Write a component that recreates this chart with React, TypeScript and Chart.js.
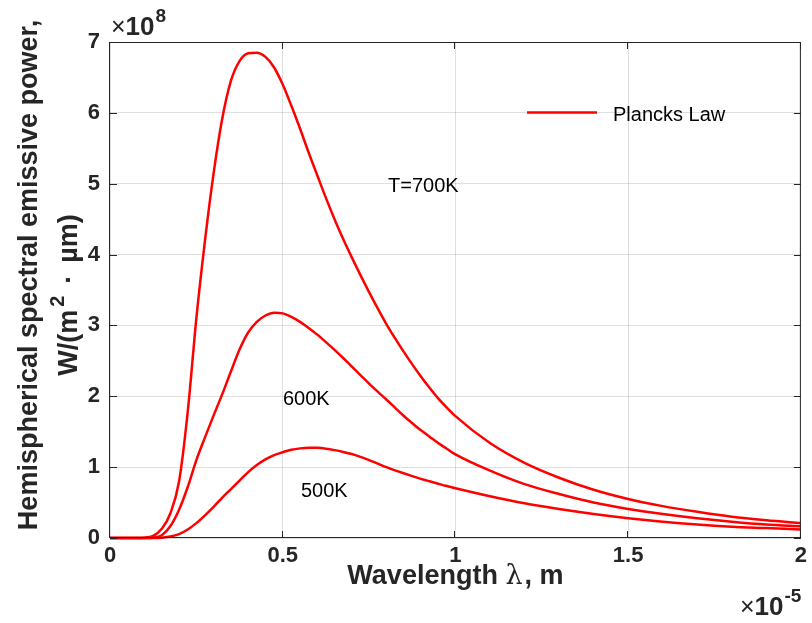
import React, { useEffect, useRef } from "react";
import { Chart, registerables } from "chart.js";

Chart.register(...registerables);

// Wavelength in units of 1e-5 m
const wavelength = [0, 0.025, 0.05, 0.075, 0.1, 0.125, 0.15, 0.175, 0.2, 0.225, 0.25, 0.275, 0.3, 0.325, 0.35, 0.375, 0.4, 0.425, 0.45, 0.475, 0.5, 0.525, 0.55, 0.575, 0.6, 0.625, 0.65, 0.675, 0.7, 0.725, 0.75, 0.775, 0.8, 0.825, 0.85, 0.875, 0.9, 0.925, 0.95, 0.975, 1.0, 1.1, 1.2, 1.3, 1.4, 1.5, 1.6, 1.7, 1.8, 1.9, 2.0];
// Emissive power in units of 1e8 W/(m^2·µm)
const power700 = [0, 0, 0, 0, 0.004, 0.03, 0.13, 0.35, 0.8, 1.78, 3.1, 4.2, 5.15, 5.92, 6.45, 6.73, 6.84, 6.85, 6.79, 6.64, 6.4, 6.1, 5.78, 5.44, 5.12, 4.8, 4.5, 4.22, 3.96, 3.71, 3.47, 3.24, 3.02, 2.82, 2.63, 2.45, 2.28, 2.12, 1.97, 1.84, 1.72, 1.34, 1.06, 0.85, 0.68, 0.55, 0.45, 0.37, 0.3, 0.25, 0.21];
const power600 = [0, 0, 0, 0, 0, 0.005, 0.04, 0.17, 0.4, 0.72, 1.1, 1.42, 1.73, 2.03, 2.35, 2.66, 2.9, 3.05, 3.14, 3.18, 3.17, 3.12, 3.05, 2.965, 2.87, 2.765, 2.655, 2.54, 2.42, 2.3, 2.18, 2.065, 1.955, 1.84, 1.725, 1.62, 1.52, 1.43, 1.34, 1.26, 1.18, 0.95, 0.76, 0.62, 0.5, 0.41, 0.34, 0.28, 0.23, 0.19, 0.165];
const power500 = [0, 0, 0, 0, 0, 0, 0.005, 0.02, 0.055, 0.12, 0.21, 0.32, 0.44, 0.57, 0.69, 0.81, 0.93, 1.03, 1.11, 1.17, 1.21, 1.245, 1.265, 1.275, 1.272, 1.26, 1.24, 1.215, 1.185, 1.145, 1.1, 1.05, 1.0, 0.955, 0.913, 0.873, 0.835, 0.8, 0.766, 0.733, 0.703, 0.59, 0.49, 0.41, 0.34, 0.28, 0.23, 0.19, 0.16, 0.14, 0.12];

const xTicks = [0, 0.5, 1, 1.5, 2];
const yTicks = [0, 1, 2, 3, 4, 5, 6, 7];
const seriesLabels = ["Plancks Law", "T=600K", "T=500K"];
const curveLabels = [
  { text: "T=700K", x: 388, y: 192 },
  { text: "600K", x: 283, y: 405 },
  { text: "500K", x: 301, y: 497 },
];

const AXIS = "#262626";
const RED = "#ff0000";
const FONT = "'Liberation Sans', Arial, Helvetica, sans-serif";

const toPts = (ys: number[]) => wavelength.map((x, i) => ({ x, y: ys[i] }));

function drawExponent(ctx: any, x: number, y: number, exp: string) {
  ctx.font = `25px ${FONT}`;
  ctx.fillText("\u00d7", x, y);
  const w = ctx.measureText("\u00d7").width;
  ctx.font = `bold 26px ${FONT}`;
  ctx.fillText("10", x + w, y);
  const w2 = ctx.measureText("10").width;
  ctx.font = `bold 19px ${FONT}`;
  ctx.fillText(exp, x + w + w2 + 1, y - 13);
}

const overlay = {
  id: "overlay",
  afterDraw(chart: any) {
    const { ctx, chartArea: a, scales } = chart;
    const L = a.left, R = a.right, T = a.top, B = a.bottom;
    ctx.save();
    // box
    ctx.strokeStyle = AXIS;
    ctx.lineWidth = 1;
    ctx.beginPath();
    ctx.moveTo(L - 0.5, T + 0.5);
    ctx.lineTo(R - 0.5, T + 0.5);
    ctx.lineTo(R - 0.5, B - 0.5);
    ctx.lineTo(L - 0.5, B - 0.5);
    ctx.closePath();
    // inward ticks
    const tl = 7;
    xTicks.forEach((v) => {
      const px = Math.round(scales.x.getPixelForValue(v)) - 0.5;
      ctx.moveTo(px, B);
      ctx.lineTo(px, B - tl);
      ctx.moveTo(px, T);
      ctx.lineTo(px, T + tl);
    });
    yTicks.forEach((v) => {
      const py = Math.round(scales.y.getPixelForValue(v)) + 0.5;
      ctx.moveTo(L, py);
      ctx.lineTo(L + tl, py);
      ctx.moveTo(R, py);
      ctx.lineTo(R - tl, py);
    });
    ctx.stroke();

    // legend
    ctx.strokeStyle = RED;
    ctx.lineWidth = 2.6;
    ctx.beginPath();
    ctx.moveTo(527, 112.5);
    ctx.lineTo(597, 112.5);
    ctx.stroke();
    ctx.fillStyle = "#000";
    ctx.font = `20px ${FONT}`;
    ctx.textAlign = "left";
    ctx.textBaseline = "alphabetic";
    ctx.fillText(seriesLabels[0], 613, 120.5);

    // curve annotations
    curveLabels.forEach((c) => ctx.fillText(c.text, c.x, c.y));

    // exponent labels
    ctx.fillStyle = AXIS;
    drawExponent(ctx, 111, 35, "8");
    drawExponent(ctx, 740, 615, "-5");

    // x title
    const cx = (L + R) / 2;
    const p1 = "Wavelength ";
    const p2 = "\u03bb";
    const p3 = ", m";
    ctx.font = `bold 27px ${FONT}`;
    const a1 = ctx.measureText(p1).width;
    const a3 = ctx.measureText(p3).width;
    ctx.font = `27px 'DejaVu Serif', serif`;
    const a2 = ctx.measureText(p2).width;
    const sx = cx - (a1 + a2 + a3 + 2) / 2;
    const by = 584;
    ctx.font = `bold 27px ${FONT}`;
    ctx.fillText(p1, sx, by);
    ctx.font = `27px 'DejaVu Serif', serif`;
    ctx.fillText(p2, sx + a1, by);
    ctx.font = `bold 27px ${FONT}`;
    ctx.fillText(p3, sx + a1 + a2 + 2, by);

    // y title line 1
    ctx.save();
    ctx.translate(37, 275);
    ctx.rotate(-Math.PI / 2);
    ctx.textAlign = "center";
    ctx.font = `bold 27px ${FONT}`;
    ctx.fillText("Hemispherical spectral emissive power,", 0, 0);
    ctx.restore();

    // y title line 2 with superscript
    ctx.save();
    ctx.translate(77, 295);
    ctx.rotate(-Math.PI / 2);
    ctx.textAlign = "left";
    const q1 = "W/(m";
    const q2 = "2";
    const q3 = "\u00b7";
    const q4 = "\u00b5m)";
    ctx.font = `bold 27px ${FONT}`;
    const b1 = ctx.measureText(q1).width;
    const b3 = ctx.measureText(q3).width;
    const b4 = ctx.measureText(q4).width;
    ctx.font = `bold 20px ${FONT}`;
    const b2 = ctx.measureText(q2).width;
    const g1 = 3, g2 = 12, g3 = 12;
    const total = b1 + g1 + b2 + g2 + b3 + g3 + b4;
    let st = -total / 2;
    ctx.font = `bold 27px ${FONT}`;
    ctx.fillText(q1, st, 0);
    st += b1 + g1;
    ctx.font = `bold 20px ${FONT}`;
    ctx.fillText(q2, st, -13);
    st += b2 + g2;
    ctx.font = `bold 27px ${FONT}`;
    ctx.fillText(q3, st, 0);
    st += b3 + g3;
    ctx.fillText(q4, st, 0);
    ctx.restore();

    ctx.restore();
  },
};

export default function App() {
  const ref = useRef<HTMLCanvasElement>(null);
  useEffect(() => {
    document.body.style.margin = "0";
    const canvas = ref.current!;
    const ds = (label: string, ys: number[]) => ({
      label,
      data: toPts(ys),
      borderColor: RED,
      backgroundColor: RED,
      borderWidth: 2.5,
      pointRadius: 0,
      cubicInterpolationMode: "monotone" as const,
      fill: false,
      clip: 4,
    });
    const chart = new Chart(canvas, {
      type: "line",
      data: {
        datasets: [ds(seriesLabels[0], power700), ds(seriesLabels[1], power600), ds(seriesLabels[2], power500)],
      },
      options: {
        animation: false,
        responsive: false,
        devicePixelRatio: 1,
        layout: { padding: { top: 42, right: 7, left: 0, bottom: 0 } },
        plugins: { legend: { display: false }, tooltip: { enabled: false } },
        scales: {
          x: {
            type: "linear",
            min: 0,
            max: 2,
            afterFit: (s: any) => { s.height = 85; },
            afterBuildTicks: (s: any) => { s.ticks = xTicks.map((v) => ({ value: v })); },
            grid: { color: "rgba(38,38,38,0.15)", lineWidth: 1, drawTicks: false },
            border: { display: false },
            ticks: {
              padding: 5,
              color: AXIS,
              font: { family: FONT, size: 22, weight: "bold" },
              maxRotation: 0,
              callback: (v: any) => String(v),
            },
          },
          y: {
            type: "linear",
            min: 0,
            max: 7,
            afterFit: (s: any) => { s.width = 110; },
            afterBuildTicks: (s: any) => { s.ticks = yTicks.map((v) => ({ value: v })); },
            grid: { color: "rgba(38,38,38,0.15)", lineWidth: 1, drawTicks: false },
            border: { display: false },
            ticks: {
              padding: 10,
              color: AXIS,
              font: { family: FONT, size: 22, weight: "bold" },
              callback: (v: any) => String(v),
            },
          },
        },
      },
      plugins: [overlay],
    });
    return () => chart.destroy();
  }, []);
  return (
    <div style={{ width: 812, height: 623, background: "#fff" }}>
      <canvas ref={ref} width={812} height={623} style={{ display: "block" }} />
    </div>
  );
}
